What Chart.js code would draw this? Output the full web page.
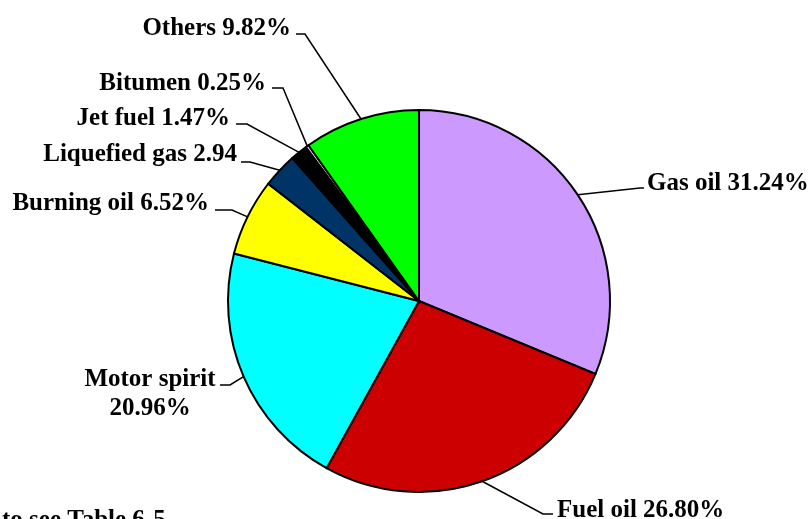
<!DOCTYPE html>
<html>
<head>
<meta charset="utf-8">
<script src="https://cdn.jsdelivr.net/npm/chart.js@4.4.0/dist/chart.umd.min.js"></script>
<style>
    html, body { margin: 0; padding: 0; background: #fff; }
    #wrap { width: 808px; height: 519px; position: relative; }
</style>
</head>
<body>
<div id="wrap"><canvas id="myChart"></canvas></div>
<script>
// ===== data =====
const products = ['Gas oil', 'Fuel oil', 'Motor spirit', 'Burning oil', 'Liquefied gas', 'Jet fuel', 'Bitumen', 'Others']
const shares = [31.24, 26.80, 20.96, 6.52, 2.94, 1.47, 0.25, 9.82]
const labelTexts = ['Gas oil 31.24%', 'Fuel oil 26.80%', ['Motor spirit', '20.96%'], 'Burning oil 6.52%',
    'Liquefied gas 2.94', 'Jet fuel 1.47%', 'Bitumen 0.25%', 'Others 9.82%']
const sliceColors = ['#CC99FF', '#CC0000', '#00FFFF', '#FFFF00', '#003366', '#000000', '#FFFFFF', '#00FF00']

// where each label sits: elbow of the leader, end of the short flat bit, text anchor
const labelLayout = [
    { elbow: [640, 188], end: [644, 188], tx: 647, ty: 190, align: 'left' },
    { elbow: [543, 514], end: [553, 514], tx: 557, ty: 517, align: 'left' },
    { elbow: [230, 385], end: [220, 385], tx: 150, ty: 386, align: 'center' },
    { elbow: [232, 210], end: [215, 210], tx: 209, ty: 210, align: 'right' },
    { elbow: [250, 162], end: [241, 162], tx: 237, ty: 161, align: 'right' },
    { elbow: [247, 124], end: [236, 124], tx: 230, ty: 125, align: 'right' },
    { elbow: [283, 88], end: [272, 88], tx: 266, ty: 90, align: 'right' },
    { elbow: [305, 34], end: [296, 34], tx: 291, ty: 35, align: 'right' }
]

const labelFont = 'bold 25px "Liberation Serif", "Times New Roman", serif'

const leaderLabels = {
    id: 'leaderLabels',
    afterDatasetsDraw(chart) {
        const ctx = chart.ctx
        const arcs = chart.getDatasetMeta(0).data
        ctx.save()
        ctx.strokeStyle = '#000'
        ctx.lineWidth = 1.5
        ctx.fillStyle = '#000'
        ctx.font = labelFont
        ctx.textBaseline = 'alphabetic'
        arcs.forEach((arc, i) => {
            const p = arc.getProps(['x', 'y', 'startAngle', 'endAngle', 'outerRadius'], true)
            const mid = (p.startAngle + p.endAngle) / 2
            const ax = p.x + Math.cos(mid) * p.outerRadius
            const ay = p.y + Math.sin(mid) * p.outerRadius
            const l = labelLayout[i]
            ctx.beginPath()
            ctx.moveTo(ax, ay)
            ctx.lineTo(l.elbow[0], l.elbow[1])
            ctx.lineTo(l.end[0], l.end[1])
            ctx.stroke()
            ctx.textAlign = l.align
            let lines = Array.isArray(labelTexts[i]) ? labelTexts[i] : [labelTexts[i]]
            lines.forEach((t, k) => {
                ctx.fillText(t, l.tx, l.ty + k * 29)
            })
        })
        // note cut off at the bottom edge
        ctx.textAlign = 'left'
        ctx.fillText('to see Table 6-5', 2, 527)
        ctx.restore()
    }
}

let ctx = document.getElementById('myChart')

let dados = {
    labels: products,
    datasets: [{
        data: shares,
        backgroundColor: sliceColors,
        borderColor: '#000',
        borderWidth: 2,
        borderJoinStyle: 'miter'
    }]
}

let opcoes = {
    responsive: true,
    maintainAspectRatio: false,
    animation: false,
    radius: 191,
    layout: { padding: { left: 30, right: 0, top: 83, bottom: 0 } },
    plugins: {
        legend: { display: false },
        tooltip: { enabled: false }
    }
}

let meuPieChart = new Chart(ctx, {
    type: 'pie',
    data: dados,
    options: opcoes,
    plugins: [leaderLabels]
})
</script>
</body>
</html>
